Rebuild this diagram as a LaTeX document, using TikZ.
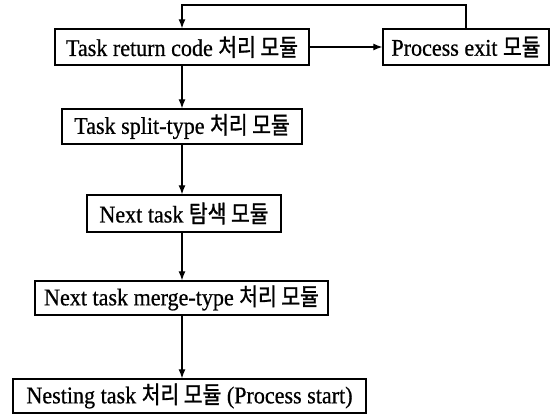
\documentclass[tikz,border=0pt]{standalone}
\usepackage{fontspec}
\setmainfont[FakeStretch=0.92,FakeBold=0.6]{Liberation Serif}
\newfontfamily\kr[FakeStretch=0.85,FakeBold=1.2]{Noto Sans CJK KR}
\usetikzlibrary{arrows.meta}
\begin{document}
\begin{tikzpicture}[x=1pt,y=-1pt,
  box/.style={draw,line width=1.4pt,inner sep=0pt,font=\fontsize{24}{26}\selectfont},
  arr/.style={line width=1.2pt,-{Latex[length=9pt,width=7pt]}}]
\useasboundingbox (0,0) rectangle (552,414);
\node[box,minimum width=254pt,minimum height=36pt] (ret) at (182,47) {Task return code {\kr 처리 모듈}};
\node[box,minimum width=166pt,minimum height=36pt] (exit) at (466,47) {Process exit {\kr 모듈}};
\node[box,minimum width=240pt,minimum height=35pt] (split) at (182,126.5) {Task split-type {\kr 처리 모듈}};
\node[box,minimum width=194pt,minimum height=37pt] (next) at (184,213.5) {Next task {\kr 탐색 모듈}};
\node[box,minimum width=293pt,minimum height=34pt] (merge) at (181.5,298) {Next task merge-type {\kr 처리 모듈}};
\node[box,minimum width=353pt,minimum height=34pt] (nest) at (189.5,396) {Nesting task {\kr 처리 모듈} (Process start)};
\coordinate (top) at (0,5);
\draw[arr] (ret.east) -- (exit.west);
\draw[arr] (exit.north) -- (exit.north |- top) -| (ret.north);
\draw[arr] (ret.south) -- (ret.south |- split.north);
\draw[arr] (ret.south |- split.south) -- (ret.south |- next.north);
\draw[arr] (ret.south |- next.south) -- (ret.south |- merge.north);
\draw[arr] (ret.south |- merge.south) -- (ret.south |- nest.north);
\end{tikzpicture}
\end{document}
